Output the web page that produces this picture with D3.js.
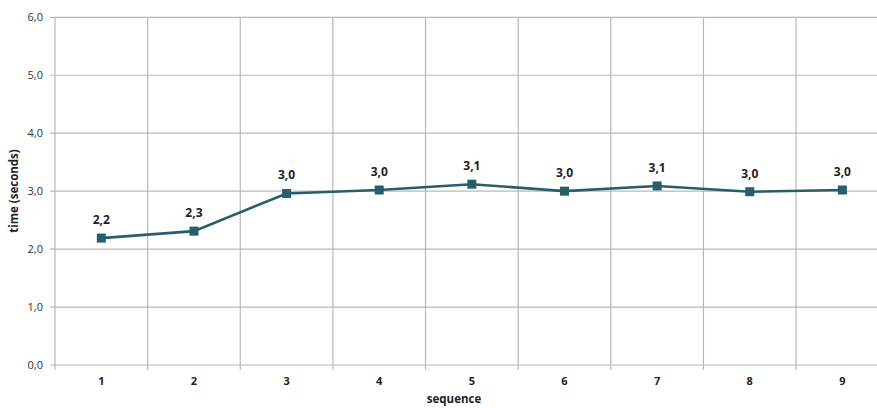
<!DOCTYPE html>
<html><head><meta charset="utf-8">
<script src="https://cdn.jsdelivr.net/npm/d3@7"></script>
<style>body{margin:0;background:#fff}svg{display:block}text{font-family:"Open Sans","Liberation Sans",sans-serif}</style>
</head><body>
<svg id="c" width="877" height="408"></svg>
<script>
const categories = ["1","2","3","4","5","6","7","8","9"];
const values = [2.19, 2.31, 2.96, 3.02, 3.12, 3.00, 3.09, 2.99, 3.02];
const valueLabels = ["2,2","2,3","3,0","3,0","3,1","3,0","3,1","3,0","3,0"];
const yTicks = [0,1,2,3,4,5,6];

(function(){
const svg = d3.select("#c");
const mL = 55, mR = 888.7, mT = 17.3, mB = 365;
const x = d3.scaleBand().domain(categories).range([mL, mR]).padding(0);
const y = d3.scaleLinear().domain([0, 6]).range([mB, mT]);
const fmt = d => d3.format(".1f")(d).replace(".", ",");
const grid = "#b8b8b8";

svg.append("g").selectAll("line").data(yTicks).join("line")
  .attr("x1", mL - 5).attr("x2", mR).attr("y1", d => y(d)).attr("y2", d => y(d))
  .attr("stroke", grid).attr("stroke-width", 1.2);
const edges = categories.map(c => x(c)).concat([x(categories[categories.length-1]) + x.bandwidth()]);
svg.append("g").selectAll("line").data(edges).join("line")
  .attr("x1", d => d).attr("x2", d => d).attr("y1", mT).attr("y2", mB + 5)
  .attr("stroke", grid).attr("stroke-width", 1.2);

svg.append("g").selectAll("text").data(yTicks).join("text")
  .attr("x", 43).attr("y", d => y(d) + 4).attr("text-anchor", "end")
  .attr("font-size", 11).attr("fill", "#333").text(fmt);
svg.append("g").selectAll("text").data(categories).join("text")
  .attr("x", d => x(d) + x.bandwidth()/2).attr("y", 385).attr("text-anchor", "middle")
  .attr("font-size", 11).attr("font-weight", "bold").attr("fill", "#222").text(d => d);

svg.append("text").attr("x", 454).attr("y", 403).attr("text-anchor", "middle")
  .attr("font-size", 11.5).attr("font-weight", "bold").attr("fill", "#222").text("sequence");
svg.append("text").attr("transform", "translate(18,191) rotate(-90)").attr("text-anchor", "middle")
  .attr("font-size", 11.5).attr("font-weight", "bold").attr("fill", "#222").text("time (seconds)");

const col = "#265e6b";
const cx = (d, i) => x(categories[i]) + x.bandwidth()/2;
svg.append("path").datum(values)
  .attr("d", d3.line().x((d, i) => cx(d, i)).y(d => y(d)))
  .attr("fill", "none").attr("stroke", col).attr("stroke-width", 2.6);
svg.append("g").selectAll("rect").data(values).join("rect")
  .attr("x", (d, i) => cx(d, i) - 4.5).attr("y", d => y(d) - 4.5)
  .attr("width", 9).attr("height", 9).attr("fill", col);
svg.append("g").selectAll("text").data(values).join("text")
  .attr("x", (d, i) => cx(d, i)).attr("y", d => y(d) - 14).attr("text-anchor", "middle")
  .attr("font-size", 12).attr("font-weight", "bold").attr("fill", "#222")
  .text((d, i) => valueLabels[i]);
})();
</script>
</body></html>
